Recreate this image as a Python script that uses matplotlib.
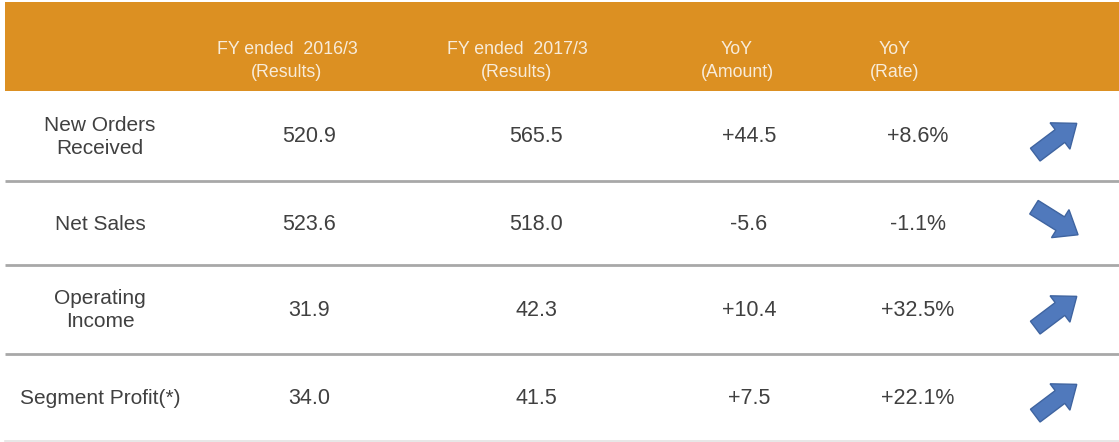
import matplotlib.pyplot as plt
import matplotlib.patches as mpatches
import numpy as np

# table contents
headers = ['FY ended  2016/3\n(Results)', 'FY ended  2017/3\n(Results)', 'YoY\n(Amount)', 'YoY\n(Rate)']
items = ['New Orders\nReceived', 'Net Sales', 'Operating\nIncome', 'Segment Profit(*)']
fy2016 = [520.9, 523.6, 31.9, 34.0]
fy2017 = [565.5, 518.0, 42.3, 41.5]
yoy_amount = [44.5, -5.6, 10.4, 7.5]
yoy_rate = [8.6, -1.1, 32.5, 22.1]

ORANGE = '#DC9022'
TEXT = '#404040'
HEAD_TEXT = '#F8ECDA'
LINE = '#A8A8A8'
BLUE = '#5079BC'
EDGE = '#3F64A0'

plt.rcParams['font.family'] = ['Liberation Sans', 'DejaVu Sans']

fig = plt.figure(figsize=(11.19, 4.42), dpi=100)
ax = fig.add_axes([0, 0, 1, 1])
ax.set_xlim(0, 1119)
ax.set_ylim(442, 0)
ax.axis('off')

# header band
ax.add_patch(mpatches.Rectangle((5, 2), 1114, 89, facecolor=ORANGE, edgecolor='none'))
head_x = [287, 517, 737, 895]
for x, h in zip(head_x, headers):
    ax.text(x, 61, h, ha='center', va='center', color=HEAD_TEXT, fontsize=12.8, linespacing=1.4)

col_x = [309, 536, 749, 918]
row_y = [137, 224, 310, 398]
sep_y = [181, 265, 354]
for y in sep_y:
    ax.plot([5, 1119], [y, y], color=LINE, lw=2, solid_capstyle='butt')
ax.plot([5, 1119], [441, 441], color='#E3E3E3', lw=1.2)

for i, y in enumerate(row_y):
    ax.text(100, y, items[i], ha='center', va='center', color=TEXT, fontsize=15, linespacing=1.25)
    ax.text(col_x[0], y, f'{fy2016[i]:.1f}', ha='center', va='center', color=TEXT, fontsize=15.5)
    ax.text(col_x[1], y, f'{fy2017[i]:.1f}', ha='center', va='center', color=TEXT, fontsize=15.5)
    ax.text(col_x[2], y, f'{yoy_amount[i]:+.1f}', ha='center', va='center', color=TEXT, fontsize=15.5)
    ax.text(col_x[3], y, f'{yoy_rate[i]:+.1f}%', ha='center', va='center', color=TEXT, fontsize=15.5)

    # direction arrow from sign of change
    up = yoy_amount[i] >= 0
    ang = np.deg2rad(37 if up else -32)
    L = 52
    cx, cy = 1056, y + (2 if up else -3)
    dx, dy = L * np.cos(ang), -L * np.sin(ang)
    arr = mpatches.FancyArrow(cx - dx / 2, cy - dy / 2, dx, dy, width=16, head_width=33,
                              head_length=21, length_includes_head=True,
                              facecolor=BLUE, edgecolor=EDGE, lw=1)
    ax.add_patch(arr)

fig.savefig('out.png', dpi=100, facecolor='white')
